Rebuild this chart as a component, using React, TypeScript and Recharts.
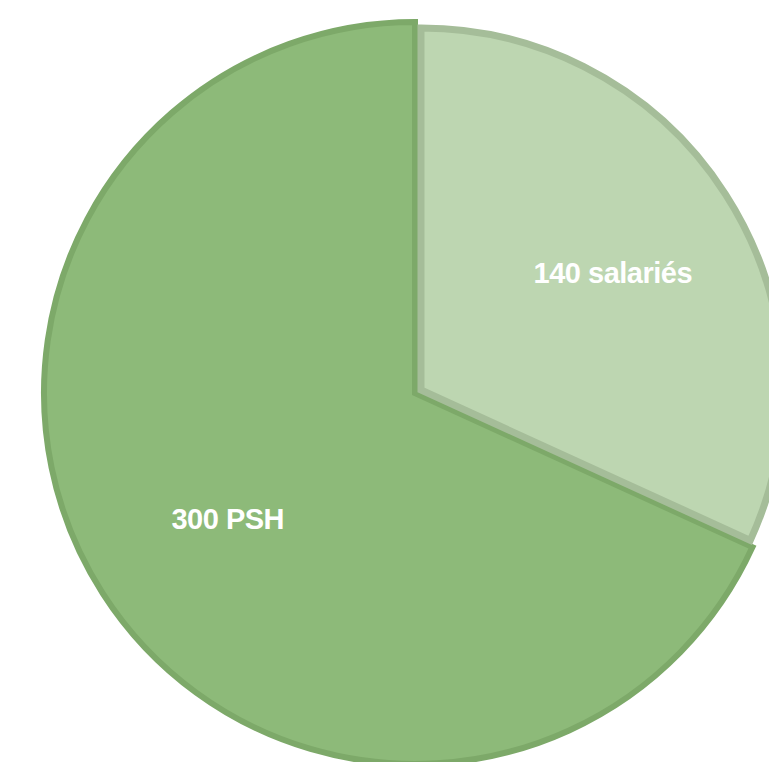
import React from 'react'
import { PieChart, Pie, Cell } from 'recharts'

const labels = ['140 salariés', '300 PSH']
const values = [140, 300]
const fills = ['#bdd6b1', '#8dba79']
const strokes = ['#a5bd99', '#7da969']

const data = labels.map((label, i) => ({ name: label, value: values[i] }))

const RADIAN = Math.PI / 180

function renderLabel(props: any) {
  const { cx, cy, midAngle, outerRadius, index } = props
  const r = outerRadius * (index === 0 ? 0.63 : 0.6)
  const x = cx + r * Math.cos(-midAngle * RADIAN)
  const y = cy + r * Math.sin(-midAngle * RADIAN)
  return (
    <text
      x={x}
      y={y + 6}
      fill="#ffffff"
      textAnchor="middle"
      dominantBaseline="central"
      fontFamily="'Liberation Sans', sans-serif"
      fontWeight="bold"
      fontSize={29}
      letterSpacing={-0.5}
    >
      {data[index].name}
    </text>
  )
}

export default function App() {
  return (
    <div style={{ position: 'absolute', left: 0, top: 0, background: '#fff' }}>
      <PieChart width={769} height={762}>
        {/* main slice */}
        <Pie
          data={data}
          dataKey="value"
          cx={410}
          cy={388}
          outerRadius={371}
          startAngle={90}
          endAngle={-270}
          isAnimationActive={false}
          labelLine={false}
          label={(p: any) => (p.index === 1 ? renderLabel(p) : null)}
        >
          {data.map((d, i) => (
            <Cell
              key={d.name}
              fill={i === 1 ? fills[1] : 'none'}
              stroke={i === 1 ? strokes[1] : 'none'}
              strokeWidth={6}
            />
          ))}
        </Pie>
        {/* exploded slice */}
        <Pie
          data={data}
          dataKey="value"
          cx={416}
          cy={385}
          outerRadius={362}
          startAngle={90}
          endAngle={-270}
          isAnimationActive={false}
          labelLine={false}
          label={(p: any) => (p.index === 0 ? renderLabel(p) : null)}
        >
          {data.map((d, i) => (
            <Cell
              key={d.name}
              fill={i === 0 ? fills[0] : 'none'}
              stroke={i === 0 ? strokes[0] : 'none'}
              strokeWidth={7}
            />
          ))}
        </Pie>
      </PieChart>
    </div>
  )
}
